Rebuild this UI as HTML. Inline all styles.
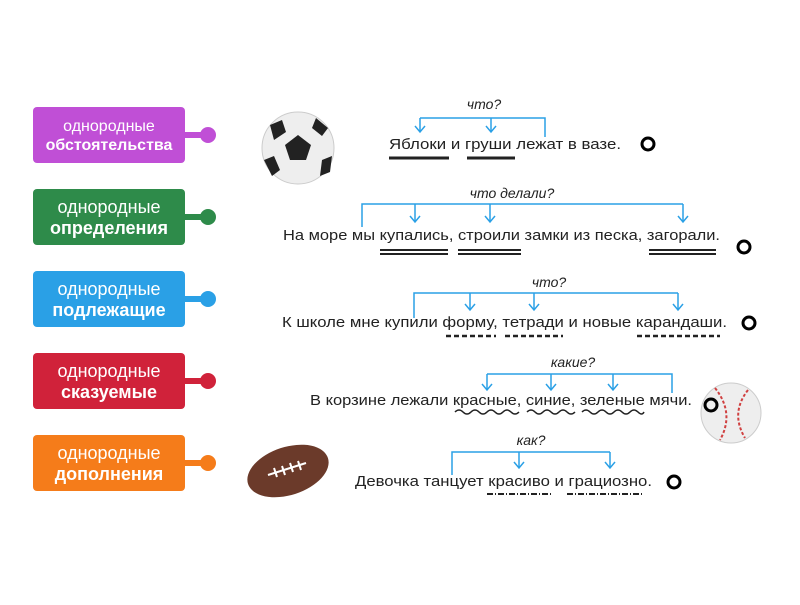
<!DOCTYPE html><html><head><meta charset="utf-8"><style>
body{margin:0;background:#fff;width:800px;height:600px;overflow:hidden;font-family:"Liberation Sans",sans-serif}
</style></head><body>
<svg width="800" height="600" viewBox="0 0 800 600" xmlns="http://www.w3.org/2000/svg" font-family="Liberation Sans, sans-serif">
<defs><marker id="a" markerWidth="12" markerHeight="12" refX="6" refY="9" orient="0" markerUnits="userSpaceOnUse"><path d="M1,3 L6,9 L11,3" fill="none" stroke="#2aa0e6" stroke-width="1.5"/></marker></defs>
<g font-weight="bold" text-anchor="middle" fill="#fff">
<g><line x1="185" y1="135" x2="208" y2="135" stroke="#c04fd6" stroke-width="6"/><circle cx="208" cy="135" r="8" fill="#c04fd6"/><rect x="33" y="107" width="152" height="56" rx="4" fill="#c04fd6"/><text x="109" y="131" font-size="16" font-weight="normal">однородные</text><text x="109" y="150" font-size="16">обстоятельства</text></g>
<g><line x1="185" y1="217" x2="208" y2="217" stroke="#2e8b4a" stroke-width="6"/><circle cx="208" cy="217" r="8" fill="#2e8b4a"/><rect x="33" y="189" width="152" height="56" rx="4" fill="#2e8b4a"/><text x="109" y="213" font-size="18" font-weight="normal">однородные</text><text x="109" y="234" font-size="18">определения</text></g>
<g><line x1="185" y1="299" x2="208" y2="299" stroke="#2aa0e6" stroke-width="6"/><circle cx="208" cy="299" r="8" fill="#2aa0e6"/><rect x="33" y="271" width="152" height="56" rx="4" fill="#2aa0e6"/><text x="109" y="295" font-size="18" font-weight="normal">однородные</text><text x="109" y="316" font-size="18">подлежащие</text></g>
<g><line x1="185" y1="381" x2="208" y2="381" stroke="#d0223a" stroke-width="6"/><circle cx="208" cy="381" r="8" fill="#d0223a"/><rect x="33" y="353" width="152" height="56" rx="4" fill="#d0223a"/><text x="109" y="377" font-size="18" font-weight="normal">однородные</text><text x="109" y="398" font-size="18">сказуемые</text></g>
<g><line x1="185" y1="463" x2="208" y2="463" stroke="#f57c1a" stroke-width="6"/><circle cx="208" cy="463" r="8" fill="#f57c1a"/><rect x="33" y="435" width="152" height="56" rx="4" fill="#f57c1a"/><text x="109" y="459" font-size="18" font-weight="normal">однородные</text><text x="109" y="480" font-size="18">дополнения</text></g>
</g>
<circle cx="298" cy="148" r="36" fill="#eee" stroke="#ccc"/>
<polygon points="298,135 311,145 306,160 290,160 285,145" fill="#222"/>
<path d="M270,125 L282,120 L286,132 L274,140 Z M316,118 L328,128 L322,136 L312,128 Z M264,160 L274,156 L280,170 L272,176 Z M322,160 L332,156 L330,172 L320,176 Z" fill="#222"/>
<circle cx="731" cy="413" r="30" fill="#eee" stroke="#ccc"/>
<path d="M715,388 Q735,413 720,440 M748,390 Q730,413 745,438" stroke="#d04040" stroke-width="2" fill="none" stroke-dasharray="3 2"/>
<ellipse cx="288" cy="471" rx="42" ry="24" transform="rotate(-18 288 471)" fill="#6b3a2a"/>
<path d="M268,475 L306,463" stroke="#fff" stroke-width="2"/>
<path d="M274,468 l3,9 M282,466 l3,9 M290,463 l3,9 M298,461 l3,9" stroke="#fff" stroke-width="2"/>
<g stroke="#2aa0e6" stroke-width="1.5" fill="none">
<path d="M420,118 H545 V137"/><path d="M420,118 V132" marker-end="url(#a)"/><path d="M491,118 V132" marker-end="url(#a)"/>
<path d="M362,227 V204 H683"/><path d="M415,204 V222" marker-end="url(#a)"/><path d="M490,204 V222" marker-end="url(#a)"/><path d="M683,204 V222" marker-end="url(#a)"/>
<path d="M414,318 V293 H678"/><path d="M470,293 V310" marker-end="url(#a)"/><path d="M534,293 V310" marker-end="url(#a)"/><path d="M678,293 V310" marker-end="url(#a)"/>
<path d="M487,374 H672 V393"/><path d="M487,374 V390" marker-end="url(#a)"/><path d="M551,374 V390" marker-end="url(#a)"/><path d="M613,374 V390" marker-end="url(#a)"/>
<path d="M452,475 V452 H610"/><path d="M519,452 V468" marker-end="url(#a)"/><path d="M610,452 V468" marker-end="url(#a)"/>
</g>
<g font-style="italic" font-size="14" fill="#222" text-anchor="middle">
<text x="484" y="109">что?</text><text x="512" y="198">что делали?</text><text x="549" y="287">что?</text><text x="573" y="367">какие?</text><text x="531" y="445">как?</text>
</g>
<g font-size="15" fill="#222">
<text x="389" y="149" textLength="232" lengthAdjust="spacingAndGlyphs">Яблоки и груши лежат в вазе.</text>
<text x="283" y="240" textLength="437" lengthAdjust="spacingAndGlyphs">На море мы купались, строили замки из песка, загорали.</text>
<text x="282" y="327" textLength="445" lengthAdjust="spacingAndGlyphs">К школе мне купили форму, тетради и новые карандаши.</text>
<text x="310" y="405" textLength="382" lengthAdjust="spacingAndGlyphs">В корзине лежали красные, синие, зеленые мячи.</text>
<text x="355" y="486" textLength="297" lengthAdjust="spacingAndGlyphs">Девочка танцует красиво и грациозно.</text>
</g>
<g stroke="#222" fill="none">
<path d="M389,158 H449 M467,158 H515" stroke-width="3"/>
<path d="M380,250 H448 M458,250 H521 M649,250 H716 M380,254 H448 M458,254 H521 M649,254 H716" stroke-width="2"/>
<path d="M446,336 H496 M505,336 H563 M637,336 H720" stroke-width="2.5" stroke-dasharray="5 3"/>
<path d="M455,412 q4,-4 8,0 t8,0 t8,0 t8,0 t8,0 t8,0 t8,0 t8,0 M527,412 q4,-4 8,0 t8,0 t8,0 t8,0 t8,0 t8,0 M582,412 q4,-4 8,0 t8,0 t8,0 t8,0 t8,0 t8,0 t8,0 t6,0" stroke-width="1.5"/>
<path d="M487,494 H553 M567,494 H643" stroke-width="2" stroke-dasharray="6 2 1 2"/>
</g>
<g fill="none" stroke="#000" stroke-width="3">
<circle cx="648" cy="144" r="6"/><circle cx="744" cy="247" r="6"/><circle cx="749" cy="323" r="6"/><circle cx="711" cy="405" r="6"/><circle cx="674" cy="482" r="6"/>
</g>
</svg>
</body></html>
